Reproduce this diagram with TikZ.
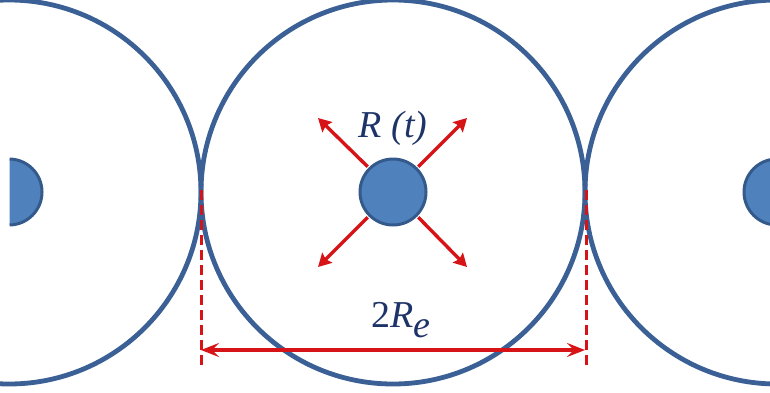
\documentclass[tikz,border=0pt]{standalone}
\usepackage{fontspec}
\setmainfont{Liberation Serif}
\usetikzlibrary{arrows.meta}
\definecolor{ringblue}{RGB}{58,96,150}
\definecolor{dotfill}{RGB}{79,129,189}
\definecolor{dotedge}{RGB}{52,90,140}
\definecolor{arrred}{RGB}{214,20,24}
\definecolor{txtnavy}{RGB}{30,52,105}
\tikzset{
  bigring/.style={circle,draw=ringblue,line width=4.8pt,minimum size=384pt,inner sep=0pt,outer sep=0pt},
  dot/.style={circle,draw=dotedge,fill=dotfill,line width=3pt,minimum size=66pt,inner sep=0pt,outer sep=0pt},
  radarrow/.style={draw=arrred,line width=3.4pt,-{Stealth[length=13pt,width=14pt,inset=2pt]}},
  dimarrow/.style={draw=arrred,line width=3.4pt,{Stealth[length=18pt,width=14pt,inset=7pt]}-{Stealth[length=18pt,width=14pt,inset=7pt]}},
  guide/.style={draw=arrred,line width=3pt,dash pattern=on 10pt off 5pt},
  lbl/.style={text=txtnavy,font=\fontsize{38}{44}\selectfont\itshape,inner sep=0pt}
}
\begin{document}
\begin{tikzpicture}[x=1pt,y=-1pt]
\useasboundingbox (0,0) rectangle (770,392);
\clip (0,0) rectangle (770,392);
% big rings
\node[bigring] (L) at (9,192) {};
\node[bigring] (C) at (393,192) {};
\node[bigring] (Rr) at (777,192) {};
% small dots
\begin{scope}
\clip (9.5,0) rectangle (770,392);
\node[dot] (dl) at (9,192) {};
\end{scope}
\node[dot] (dc) at (393,192) {};
\node[dot] (dr) at (777,192) {};
% radial arrows
\coordinate (ul) at (318,118);
\coordinate (ur) at (467,118);
\coordinate (ll) at (318,267);
\coordinate (lr) at (467,267);
\draw[radarrow] ([shift={(-2,-2)}]dc.135) -- (ul);
\draw[radarrow] ([shift={(2,-2)}]dc.45) -- (ur);
\draw[radarrow] ([shift={(-2,2)}]dc.225) -- (ll);
\draw[radarrow] ([shift={(2,2)}]dc.315) -- (lr);
% label
\node[lbl,anchor=base] (rt) at (393,137) {R (t)};
% guides
\coordinate (gl1) at (201,190);
\coordinate (gl2) at (201,368);
\coordinate (gr1) at (586,190);
\coordinate (gr2) at (586,368);
\draw[guide] (gl1) -- (gl2);
\draw[guide] (gr1) -- (gr2);
% dimension
\coordinate (da) at (201,350);
\coordinate (db) at (585,350);
\draw[dimarrow] (da) -- (db);
\node[lbl,anchor=base] (re) at (401,327) {\upshape 2\textit{R}\raisebox{-10pt}{\textit{e}}};
\end{tikzpicture}
\end{document}
